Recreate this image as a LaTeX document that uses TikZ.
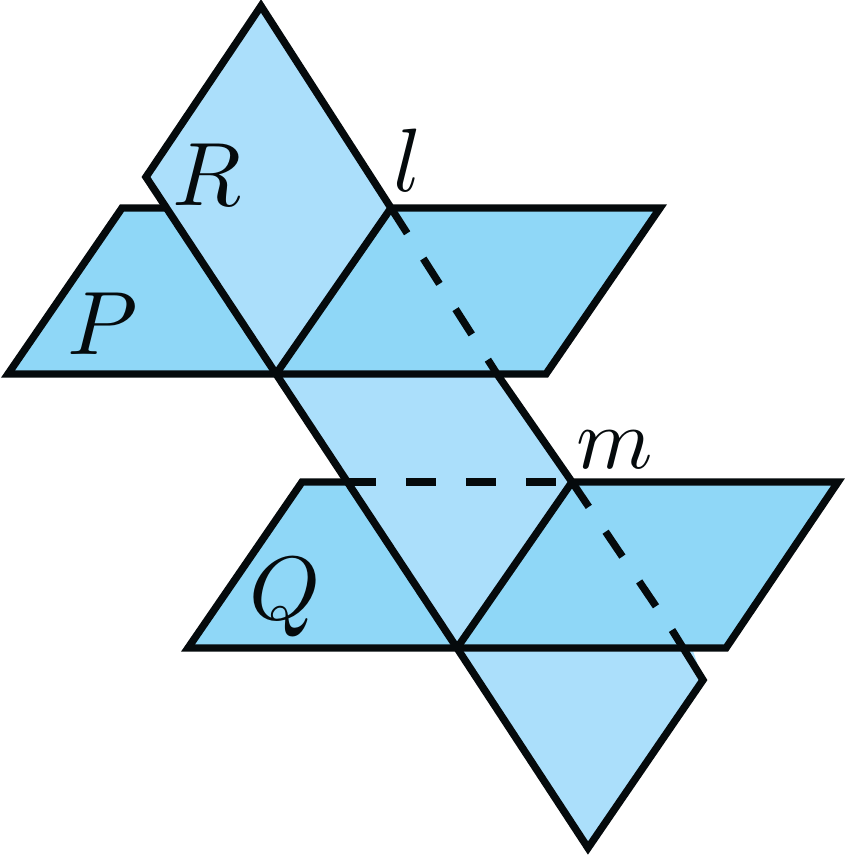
\documentclass[tikz,border=0pt]{standalone}
\definecolor{planeblue}{HTML}{8FD7F7}
\definecolor{lightblue}{HTML}{ABDFFB}
\definecolor{inkblack}{HTML}{050A0C}
\tikzset{
  edge/.style={line width=7.4pt,inkblack,line join=miter,line cap=butt},
  dashedge/.style={edge,dash pattern=on 30pt off 30pt},
  lab/.style={scale=9,inner sep=0pt,text=inkblack},
  smalllab/.style={scale=8.7,inner sep=0pt,text=inkblack}
}
\begin{document}
\begin{tikzpicture}[x=1pt,y=-1pt]
\useasboundingbox (0,0) rectangle (849,857);
\coordinate (pa) at (122,208); \coordinate (pb) at (660,208);
\coordinate (pc) at (546,374); \coordinate (pd) at (8,374);
\coordinate (qa) at (302,482); \coordinate (qb) at (838,482);
\coordinate (qc) at (726,648); \coordinate (qd) at (188,648);
\coordinate (top) at (261,6); \coordinate (left) at (146,177);
\coordinate (l) at (391,208); \coordinate (o1) at (276,374);
\coordinate (m) at (572,482); \coordinate (o2) at (457,648);
\coordinate (right) at (703,680); \coordinate (bot) at (588,848);
\coordinate (a1) at (497,374); \coordinate (a2) at (346,482);
\coordinate (a3) at (672,630); \coordinate (a4) at (166,208);
\fill[planeblue] (pa)--(pb)--(pc)--(pd)--cycle;
\fill[planeblue] (qa)--(qb)--(qc)--(qd)--cycle;
\fill[lightblue] (top)--(left)--(o1)--(l)--cycle;
\fill[lightblue] (o1)--(a1)--(m)--(o2)--cycle;
\fill[lightblue] (o2)--(692,648)--(right)--(bot)--cycle;
% plane P
\draw[edge] (a4)--(pa)--(pd)--(pc)--(pb)--(l);
% plane Q
\draw[edge] (a2)--(qa)--(qd)--(qc)--(qb)--(m);
% plane R
\draw[edge] (l)--(top)--(left)--(o2)--(bot)--(right)--(a3);
\draw[edge] (a1)--(m);
\draw[edge] (l)--(o1);
\draw[edge] (m)--(o2);
% hidden lines
\draw[dashedge] (l)--(a1);
\draw[dashedge] (a2)--(m);
\draw[dashedge] (m)--(a3);
\node[lab] (lP) at (103,324) {$P$};
\node[lab] (lR) at (207,175) {$R$};
\node[lab] (ll) at (408,160) {$l$};
\node[smalllab] (lm) at (615,450) {$m$};
\node[lab] (lQ) at (285,597) {$Q$};
\end{tikzpicture}
\end{document}
